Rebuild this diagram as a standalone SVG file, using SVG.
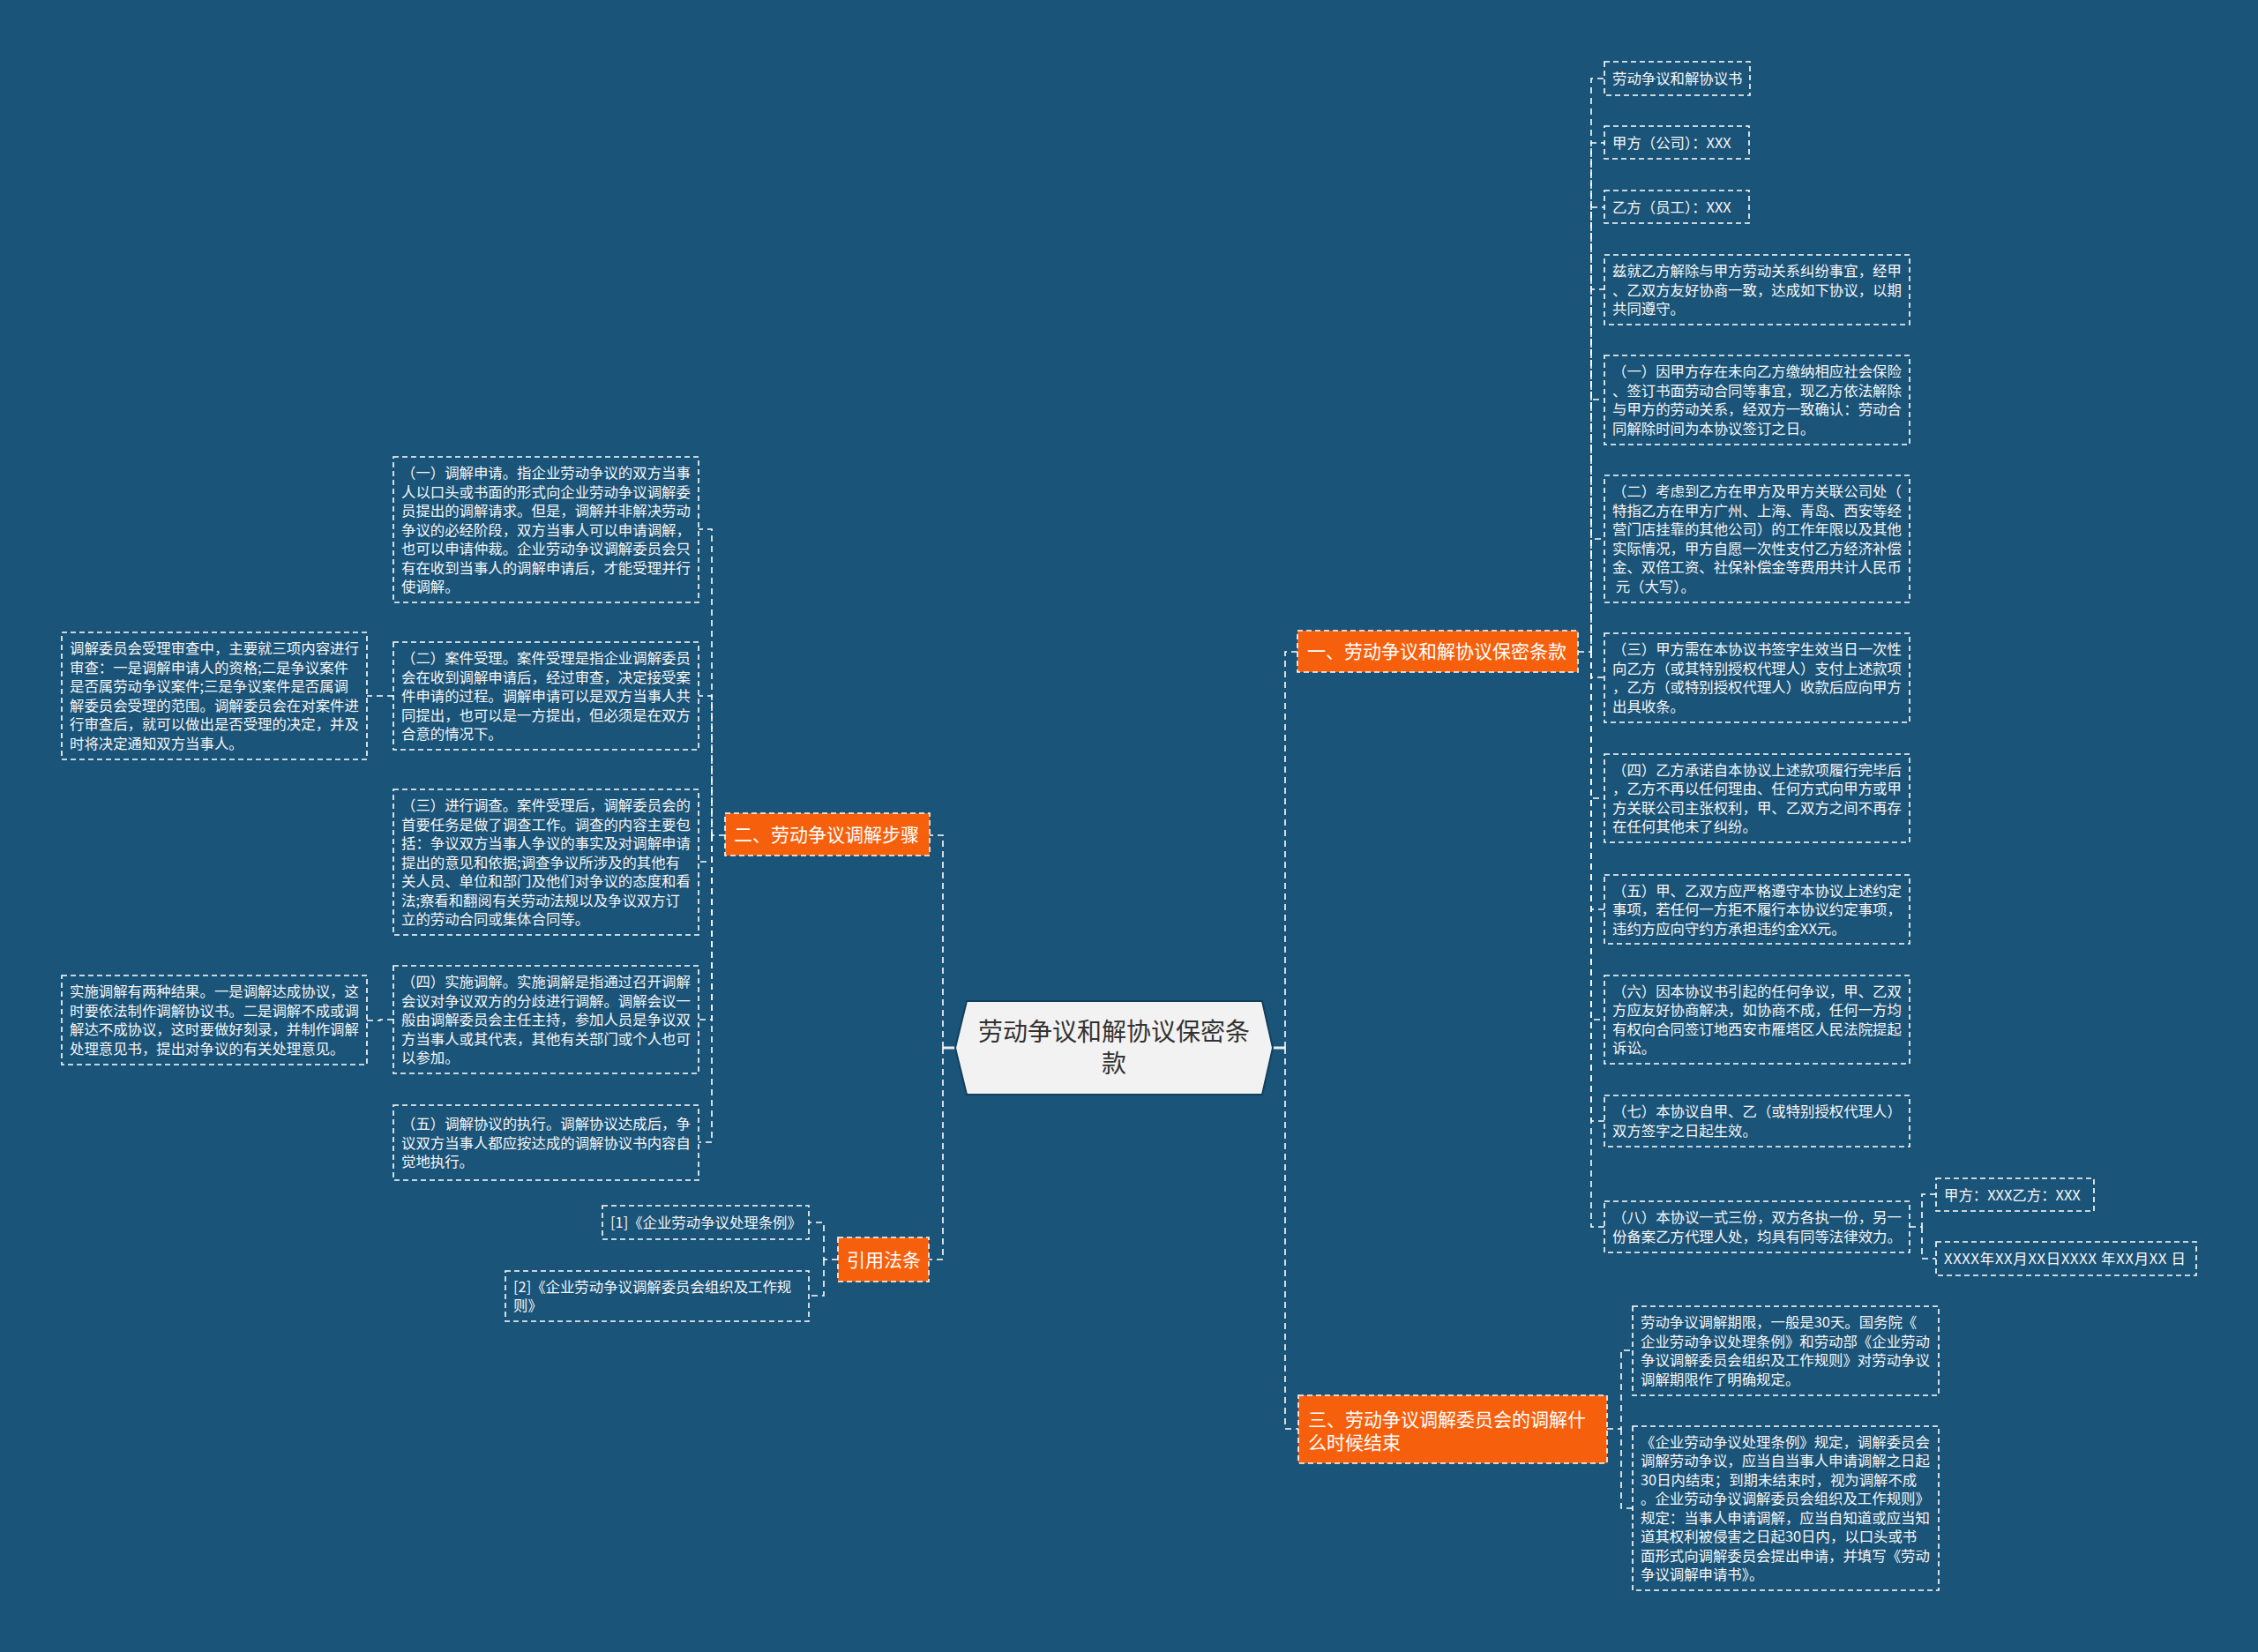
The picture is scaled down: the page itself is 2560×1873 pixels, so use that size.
<svg xmlns="http://www.w3.org/2000/svg" width="2560" height="1873" viewBox="0 0 2560 1873">
<style>
.bg{fill:#1a5479}
.box{fill:none;stroke:#ffffff;stroke-width:1.6;stroke-dasharray:6 4}
.obox{fill:#f65f0c;stroke:#ffffff;stroke-width:1.6;stroke-dasharray:6 4}
.conn{fill:none;stroke:#ffffff;stroke-width:1.6;stroke-dasharray:7 5}
.stub{fill:none;stroke:#e8eef2;stroke-width:3}
.t{font-family:"Noto Sans CJK SC","Noto Sans",sans-serif;font-size:16.4px;fill:#f6f6f6}
.bt{font-family:"Noto Sans CJK SC","Noto Sans",sans-serif;font-size:21px;fill:#ffffff}
.ct{font-family:"Noto Sans CJK SC","Noto Sans",sans-serif;font-size:28px;fill:#333333}
</style>
<rect class="bg" x="0" y="0" width="2560" height="1873"/>

<g id="connectors">
<path class="stub" d="M1443,1188 H1457"/>
<path class="stub" d="M1083,1188 H1069"/>
<path class="conn" d="M1457,1188 V739 H1471"/>
<path class="conn" d="M1457,1188 V1620 H1472"/>
<path class="conn" d="M1069,1188 V947 H1054"/>
<path class="conn" d="M1069,1188 V1428 H1053"/>
<path class="conn" d="M1789,739 H1804 V89 H1819"/>
<path class="conn" d="M1804,739 V162 H1819"/>
<path class="conn" d="M1804,739 V235 H1819"/>
<path class="conn" d="M1804,739 V328 H1819"/>
<path class="conn" d="M1804,739 V453 H1819"/>
<path class="conn" d="M1804,739 V611 H1819"/>
<path class="conn" d="M1804,739 V768 H1819"/>
<path class="conn" d="M1804,739 V905 H1819"/>
<path class="conn" d="M1804,739 V1031 H1819"/>
<path class="conn" d="M1804,739 V1156 H1819"/>
<path class="conn" d="M1804,739 V1271 H1819"/>
<path class="conn" d="M1804,739 V1391 H1819"/>
<path class="conn" d="M2165,1391 H2179 V1354 H2195"/>
<path class="conn" d="M2179,1391 V1427 H2195"/>
<path class="conn" d="M1822,1620 H1838 V1531 H1851"/>
<path class="conn" d="M1838,1620 V1710 H1851"/>
<path class="conn" d="M822,947 H807 V600 H792"/>
<path class="conn" d="M807,947 V789 H792"/>
<path class="conn" d="M807,947 V977 H792"/>
<path class="conn" d="M807,947 V1156 H792"/>
<path class="conn" d="M807,947 V1295 H792"/>
<path class="conn" d="M446,789 H416"/>
<path class="conn" d="M446,1156 H431 V1157 H416"/>
<path class="conn" d="M950,1428 H934 V1386 H917"/>
<path class="conn" d="M934,1428 V1469 H917"/>
</g>

<g id="center">
<path d="M1096,1135 H1431 L1443,1188 L1431,1241 H1096 L1083,1188 Z" fill="#f2f2f2" stroke="#123f5c" stroke-width="2"/>
<text class="ct" text-anchor="middle"><tspan x="1263" y="1180">劳动争议和解协议保密条</tspan><tspan x="1263" y="1216">款</tspan></text>
</g>

<g id="branch1">
<rect class="obox" x="1471" y="715" width="318" height="47"/>
<text class="bt" x="1482" y="746">一、劳动争议和解协议保密条款</text>
</g>
<g id="branch2">
<rect class="obox" x="822" y="922" width="232" height="48"/>
<text class="bt" x="832" y="953.5">二、劳动争议调解步骤</text>
</g>
<g id="branch3">
<rect class="obox" x="1472" y="1582" width="350" height="77"/>
<text class="bt"><tspan x="1483" y="1617">三、劳动争议调解委员会的调解什</tspan><tspan x="1483" y="1643">么时候结束</tspan></text>
</g>
<g id="branch4">
<rect class="obox" x="950" y="1403" width="103" height="50"/>
<text class="bt" x="960" y="1435.5">引用法条</text>
</g>

<g id="r1">
<rect class="box" x="1819" y="70" width="165" height="38"/>
<text class="t" x="1828" y="95">劳动争议和解协议书</text>
</g>
<g id="r2">
<rect class="box" x="1819" y="143" width="164" height="37"/>
<text class="t" x="1828" y="167.5">甲方（公司）：XXX</text>
</g>
<g id="r3">
<rect class="box" x="1819" y="216" width="164" height="37"/>
<text class="t" x="1828" y="240.5">乙方（员工）：XXX</text>
</g>
<g id="r4">
<rect class="box" x="1819" y="289" width="346" height="79"/>
<text class="t"><tspan x="1828" y="313">兹就乙方解除与甲方劳动关系纠纷事宜，经甲</tspan><tspan x="1828" y="334.5">、乙双方友好协商一致，达成如下协议，以期</tspan><tspan x="1828" y="356">共同遵守。</tspan></text>
</g>
<g id="r5">
<rect class="box" x="1819" y="403" width="346" height="101"/>
<text class="t"><tspan x="1828" y="427.3">（一）因甲方存在未向乙方缴纳相应社会保险</tspan><tspan x="1828" y="448.8">、签订书面劳动合同等事宜，现乙方依法解除</tspan><tspan x="1828" y="470.3">与甲方的劳动关系，经双方一致确认：劳动合</tspan><tspan x="1828" y="491.8">同解除时间为本协议签订之日。</tspan></text>
</g>
<g id="r6">
<rect class="box" x="1819" y="539" width="346" height="144"/>
<text class="t"><tspan x="1828" y="563.3">（二）考虑到乙方在甲方及甲方关联公司处（</tspan><tspan x="1828" y="584.8">特指乙方在甲方广州、上海、青岛、西安等经</tspan><tspan x="1828" y="606.3">营门店挂靠的其他公司）的工作年限以及其他</tspan><tspan x="1828" y="627.8">实际情况，甲方自愿一次性支付乙方经济补偿</tspan><tspan x="1828" y="649.3">金、双倍工资、社保补偿金等费用共计人民币</tspan><tspan x="1828" y="670.8"> 元（大写）。</tspan></text>
</g>
<g id="r7">
<rect class="box" x="1819" y="718" width="346" height="101"/>
<text class="t"><tspan x="1828" y="742.3">（三）甲方需在本协议书签字生效当日一次性</tspan><tspan x="1828" y="763.8">向乙方（或其特别授权代理人）支付上述款项</tspan><tspan x="1828" y="785.3">，乙方（或特别授权代理人）收款后应向甲方</tspan><tspan x="1828" y="806.8">出具收条。</tspan></text>
</g>
<g id="r8">
<rect class="box" x="1819" y="855" width="346" height="100"/>
<text class="t"><tspan x="1828" y="878.8">（四）乙方承诺自本协议上述款项履行完毕后</tspan><tspan x="1828" y="900.3">，乙方不再以任何理由、任何方式向甲方或甲</tspan><tspan x="1828" y="921.8">方关联公司主张权利，甲、乙双方之间不再存</tspan><tspan x="1828" y="943.3">在任何其他未了纠纷。</tspan></text>
</g>
<g id="r9">
<rect class="box" x="1819" y="992" width="346" height="78"/>
<text class="t"><tspan x="1828" y="1015.5">（五）甲、乙双方应严格遵守本协议上述约定</tspan><tspan x="1828" y="1037">事项，若任何一方拒不履行本协议约定事项，</tspan><tspan x="1828" y="1058.5">违约方应向守约方承担违约金XX元。</tspan></text>
</g>
<g id="r10">
<rect class="box" x="1819" y="1106" width="346" height="100"/>
<text class="t"><tspan x="1828" y="1129.8">（六）因本协议书引起的任何争议，甲、乙双</tspan><tspan x="1828" y="1151.3">方应友好协商解决，如协商不成，任何一方均</tspan><tspan x="1828" y="1172.8">有权向合同签订地西安市雁塔区人民法院提起</tspan><tspan x="1828" y="1194.3">诉讼。</tspan></text>
</g>
<g id="r11">
<rect class="box" x="1819" y="1242" width="346" height="58"/>
<text class="t"><tspan x="1828" y="1266.3">（七）本协议自甲、乙（或特别授权代理人）</tspan><tspan x="1828" y="1287.8">双方签字之日起生效。</tspan></text>
</g>
<g id="r12">
<rect class="box" x="1819" y="1362" width="346" height="58"/>
<text class="t"><tspan x="1828" y="1386.3">（八）本协议一式三份，双方各执一份，另一</tspan><tspan x="1828" y="1407.8">份备案乙方代理人处，均具有同等法律效力。</tspan></text>
</g>
<g id="r13">
<rect class="box" x="2195" y="1336" width="179" height="37"/>
<text class="t" x="2204" y="1360.5">甲方：XXX乙方：XXX</text>
</g>
<g id="r14">
<rect class="box" x="2195" y="1408" width="295" height="38"/>
<text class="t" x="2204" y="1433" textLength="274" lengthAdjust="spacing">XXXX年XX月XX日XXXX 年XX月XX 日</text>
</g>

<g id="c1">
<rect class="box" x="1851" y="1481" width="347" height="101"/>
<text class="t"><tspan x="1860" y="1505.3">劳动争议调解期限，一般是30天。国务院《</tspan><tspan x="1860" y="1526.8">企业劳动争议处理条例》和劳动部《企业劳动</tspan><tspan x="1860" y="1548.3">争议调解委员会组织及工作规则》对劳动争议</tspan><tspan x="1860" y="1569.8">调解期限作了明确规定。</tspan></text>
</g>
<g id="c2">
<rect class="box" x="1851" y="1617" width="347" height="186"/>
<text class="t"><tspan x="1860" y="1640.8">《企业劳动争议处理条例》规定，调解委员会</tspan><tspan x="1860" y="1662.3">调解劳动争议，应当自当事人申请调解之日起</tspan><tspan x="1860" y="1683.8">30日内结束；到期未结束时，视为调解不成</tspan><tspan x="1860" y="1705.3">。企业劳动争议调解委员会组织及工作规则》</tspan><tspan x="1860" y="1726.8">规定：当事人申请调解，应当自知道或应当知</tspan><tspan x="1860" y="1748.3">道其权利被侵害之日起30日内，以口头或书</tspan><tspan x="1860" y="1769.8">面形式向调解委员会提出申请，并填写《劳动</tspan><tspan x="1860" y="1791.3">争议调解申请书》。</tspan></text>
</g>

<g id="l1">
<rect class="box" x="446" y="518" width="346" height="165"/>
<text class="t"><tspan x="455" y="542">（一）调解申请。指企业劳动争议的双方当事</tspan><tspan x="455" y="563.5">人以口头或书面的形式向企业劳动争议调解委</tspan><tspan x="455" y="585">员提出的调解请求。但是，调解并非解决劳动</tspan><tspan x="455" y="606.5">争议的必经阶段，双方当事人可以申请调解，</tspan><tspan x="455" y="628">也可以申请仲裁。企业劳动争议调解委员会只</tspan><tspan x="455" y="649.5">有在收到当事人的调解申请后，才能受理并行</tspan><tspan x="455" y="671">使调解。</tspan></text>
</g>
<g id="l2">
<rect class="box" x="446" y="728" width="346" height="122"/>
<text class="t"><tspan x="455" y="752">（二）案件受理。案件受理是指企业调解委员</tspan><tspan x="455" y="773.5">会在收到调解申请后，经过审查，决定接受案</tspan><tspan x="455" y="795">件申请的过程。调解申请可以是双方当事人共</tspan><tspan x="455" y="816.5">同提出，也可以是一方提出，但必须是在双方</tspan><tspan x="455" y="838">合意的情况下。</tspan></text>
</g>
<g id="l3">
<rect class="box" x="446" y="895" width="346" height="165"/>
<text class="t"><tspan x="455" y="919">（三）进行调查。案件受理后，调解委员会的</tspan><tspan x="455" y="940.5">首要任务是做了调查工作。调查的内容主要包</tspan><tspan x="455" y="962">括：争议双方当事人争议的事实及对调解申请</tspan><tspan x="455" y="983.5">提出的意见和依据;调查争议所涉及的其他有</tspan><tspan x="455" y="1005">关人员、单位和部门及他们对争议的态度和看</tspan><tspan x="455" y="1026.5">法;察看和翻阅有关劳动法规以及争议双方订</tspan><tspan x="455" y="1048">立的劳动合同或集体合同等。</tspan></text>
</g>
<g id="l4">
<rect class="box" x="446" y="1095" width="346" height="122"/>
<text class="t"><tspan x="455" y="1119">（四）实施调解。实施调解是指通过召开调解</tspan><tspan x="455" y="1140.5">会议对争议双方的分歧进行调解。调解会议一</tspan><tspan x="455" y="1162">般由调解委员会主任主持，参加人员是争议双</tspan><tspan x="455" y="1183.5">方当事人或其代表，其他有关部门或个人也可</tspan><tspan x="455" y="1205">以参加。</tspan></text>
</g>
<g id="l5">
<rect class="box" x="446" y="1253" width="346" height="85"/>
<text class="t"><tspan x="455" y="1280">（五）调解协议的执行。调解协议达成后，争</tspan><tspan x="455" y="1301.5">议双方当事人都应按达成的调解协议书内容自</tspan><tspan x="455" y="1323">觉地执行。</tspan></text>
</g>
<g id="f1">
<rect class="box" x="70" y="717" width="346" height="144"/>
<text class="t"><tspan x="79" y="741.3">调解委员会受理审查中，主要就三项内容进行</tspan><tspan x="79" y="762.8">审查：一是调解申请人的资格;二是争议案件</tspan><tspan x="79" y="784.3">是否属劳动争议案件;三是争议案件是否属调</tspan><tspan x="79" y="805.8">解委员会受理的范围。调解委员会在对案件进</tspan><tspan x="79" y="827.3">行审查后，就可以做出是否受理的决定，并及</tspan><tspan x="79" y="848.8">时将决定通知双方当事人。</tspan></text>
</g>
<g id="f2">
<rect class="box" x="70" y="1106" width="346" height="101"/>
<text class="t"><tspan x="79" y="1130.3">实施调解有两种结果。一是调解达成协议，这</tspan><tspan x="79" y="1151.8">时要依法制作调解协议书。二是调解不成或调</tspan><tspan x="79" y="1173.3">解达不成协议，这时要做好刻录，并制作调解</tspan><tspan x="79" y="1194.8">处理意见书，提出对争议的有关处理意见。</tspan></text>
</g>
<g id="law1">
<rect class="box" x="683" y="1367" width="234" height="38"/>
<text class="t" x="692" y="1392">[1]《企业劳动争议处理条例》</text>
</g>
<g id="law2">
<rect class="box" x="573" y="1441" width="344" height="57"/>
<text class="t"><tspan x="582" y="1464.8">[2]《企业劳动争议调解委员会组织及工作规</tspan><tspan x="582" y="1486.3">则》</tspan></text>
</g>
</svg>
